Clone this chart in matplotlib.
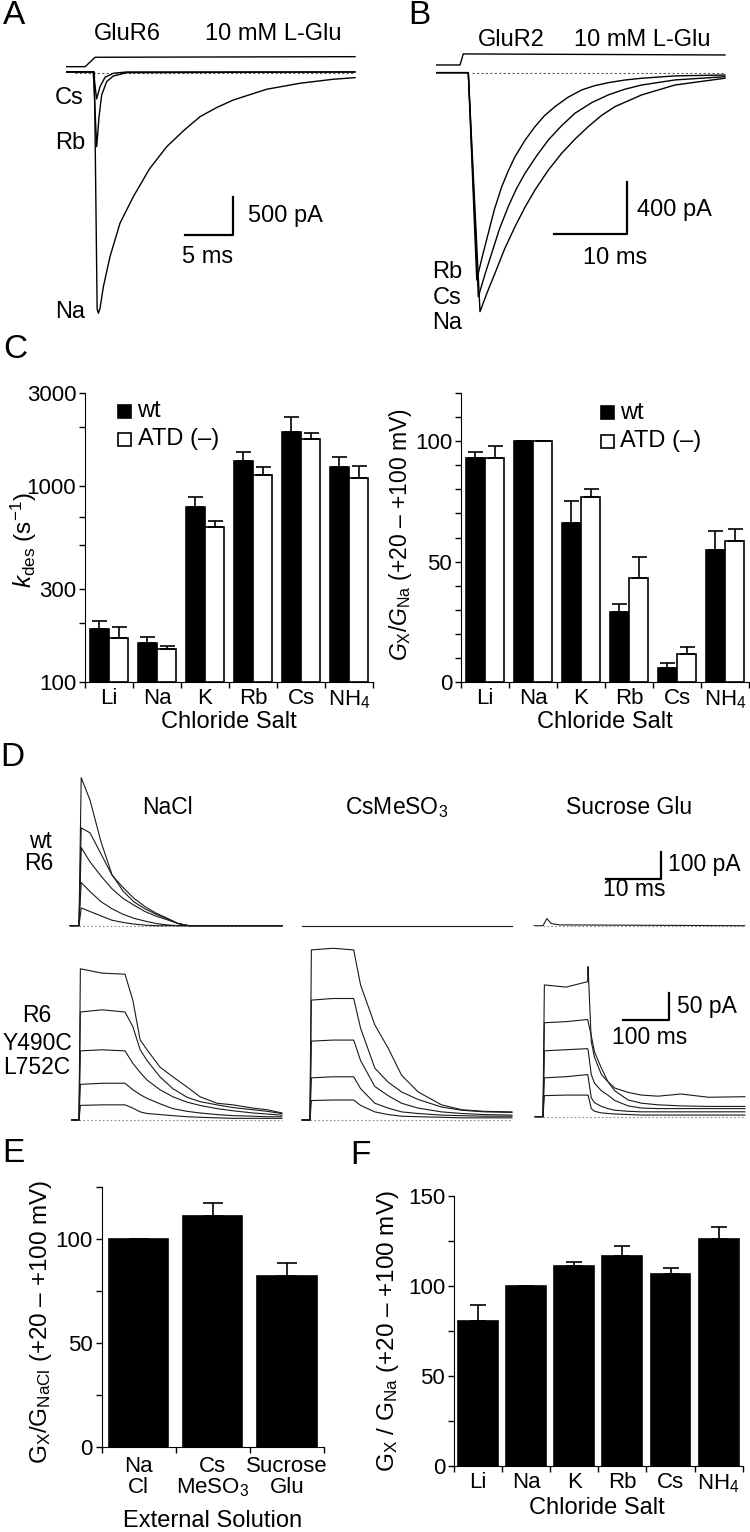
import numpy as np
import matplotlib
matplotlib.use('Agg')
import matplotlib.pyplot as plt
from matplotlib.patches import Rectangle
from matplotlib.ticker import NullFormatter

plt.rcParams['font.family'] = ['Liberation Sans', 'DejaVu Sans']
plt.rcParams['mathtext.fontset'] = 'custom'
plt.rcParams['mathtext.rm'] = 'Liberation Sans'
plt.rcParams['mathtext.it'] = 'Liberation Sans:italic'
plt.rcParams['mathtext.bf'] = 'Liberation Sans:bold'

# ---- panel A : GluR6 currents (ms, pA) ----
a_sol_t = [-2.22, -0.3, 0.74, 27.82]
a_sol_i = [70, 70, 194, 202]
a_na_t = [-2.22, 0.66, 0.95, 1.08, 1.25, 1.60, 2.29, 3.33, 4.72, 6.4, 8.20, 10.0,
          11.67, 13.4, 15.14, 18.62, 22.09, 25.56, 27.82]
a_na_i = [0, 0, -3130, -3185, -3120, -2834, -2438, -1997, -1646, -1280, -986, -770,
          -590, -470, -370, -228, -149, -96, -75]
a_rb_t = [-2.22, 0.55, 0.90, 1.15, 1.42, 1.94, 2.64, 4.03, 27.82]
a_rb_i = [0, 0, -986, -590, -304, -128, -53, -9, 0]
a_cs_t = [-2.22, 0.55, 0.90, 1.25, 1.77, 2.64, 4.03, 27.82]
a_cs_i = [0, 0, -356, -194, -70, -17, 0, 0]

# ---- panel B : GluR2 currents (ms, pA) ----
b_sol_t = [-4.35, -1.14, -0.69, 35.32]
b_sol_i = [59, 59, 144, 136]
b_rb_t = [-4.35, 0.0, 1.16, 1.9, 2.75, 3.6, 4.60, 5.5, 6.43, 7.8, 9.18, 10.5, 11.93, 13.7,
          15.60, 17.4, 19.27, 21.5, 23.86, 28.44, 35.32]
b_rb_i = [0, 0, -1594, -1420, -1235, -1050, -877, -755, -646, -520, -415, -330, -261, -190,
          -133, -100, -77, -57, -43, -25, -18]
b_cs_t = [-4.35, 0.0, 1.38, 2.3, 3.22, 4.3, 5.50, 6.6, 7.80, 9.4, 11.01, 12.8, 14.68,
          17.0, 19.27, 21.5, 23.86, 28.44, 35.32]
b_cs_i = [0, 0, -1723, -1550, -1389, -1200, -1030, -895, -774, -640, -518, -410, -312,
          -230, -171, -128, -95, -56, -31]
b_na_t = [-4.35, 0.0, 1.61, 2.6, 3.67, 5.0, 6.43, 7.8, 9.18, 11.0, 12.85, 14.7, 16.51,
          18.3, 20.19, 23.86, 28.44, 35.32]
b_na_i = [0, 0, -1838, -1690, -1543, -1355, -1184, -1035, -902, -750, -620, -510, -415,
          -330, -261, -171, -95, -43]

# ---- panel C ----
salts = ['Li', 'Na', 'K', 'Rb', 'Cs', 'NH$_4$']
kdes_wt = [186, 159, 787, 1348, 1904, 1251]
kdes_wt_err = [19, 10, 93, 151, 350, 167]
kdes_atd = [167, 147, 622, 1143, 1746, 1108]
kdes_atd_err = [25, 6, 41, 113, 135, 163]
gx_wt = [93, 100, 66, 29, 6, 55]
gx_wt_err = [2.5, 0, 9, 3.5, 2, 7.5]
gx_atd = [93, 100, 77, 43, 11.5, 58.5]
gx_atd_err = [5, 0, 3, 9, 3, 5]

# ---- panel D (wt R6, ms / pA) ----
fast_t = [-1.6, 0, 0.4, 2, 4, 6, 8, 10, 12, 14, 16, 18, 20, 36.9]
nacl_wt_1 = [0, 0, 542, 460, 307, 187, 127, 87, 62, 42, 26, 8, 0, 0]
nacl_wt_2 = [0, 0, 358, 340, 263, 185, 140, 100, 70, 46, 28, 8, 0, 0]
nacl_wt_3 = [0, 0, 286, 234, 182, 135, 100, 75, 52, 35, 22, 8, 0, 0]
nacl_wt_4 = [0, 0, 158, 125, 88, 62, 42, 27, 17, 8, 3, 0, 0, 0]
nacl_wt_5 = [0, 0, 65, 52, 36, 20, 12, 6, 2, 0, 0, 0, 0, 0]
cs_wt_t = [-1.45, 36.7]
cs_wt_i = [0, 0]
suc_wt_t = [-1.6, 0, 0.7, 1.5, 3, 36.7]
suc_wt_i = [0, 0, 26, 8, 3, 0]

# ---- panel D (R6 Y490C L752C, ms / pA) ----
nacl_mut_t = [-16, 0, 3, 50, 100, 117, 133, 148, 176, 204, 235, 263, 300, 335, 378, 409, 441]
nacl_mut_1 = [0, 0, 280, 272, 270, 222, 148, 130, 98, 80, 61, 43, 31, 28, 22, 19, 13]
nacl_mut_2 = [0, 0, 200, 204, 200, 173, 130, 110, 80, 58, 42, 34, 28, 23, 19, 16, 12]
nacl_mut_3 = [0, 0, 128, 130, 128, 105, 88, 74, 56, 43, 33, 27, 21, 17, 13, 11, 9]
nacl_mut_4 = [0, 0, 66, 68, 68, 56, 47, 40, 30, 21, 16, 13, 10, 8, 7, 6, 6]
nacl_mut_5 = [0, 0, 27, 28, 28, 22, 15, 12, 10, 8, 6, 5, 4, 3, 3, 3, 3]
cs_mut_t = [-17, 0, 3, 50, 95, 110, 141, 170, 199, 235, 286, 330, 380, 439]
cs_mut_1 = [0, 0, 315, 318, 315, 250, 176, 133, 83, 52, 28, 19, 16, 15]
cs_mut_2 = [0, 0, 222, 225, 225, 170, 96, 70, 52, 38, 24, 18, 15, 14]
cs_mut_3 = [0, 0, 146, 148, 148, 110, 62, 45, 31, 22, 15, 12, 10, 9]
cs_mut_4 = [0, 0, 78, 80, 80, 58, 31, 22, 15, 12, 9, 8, 7, 7]
cs_mut_5 = [0, 0, 36, 37, 37, 27, 15, 10, 7, 6, 5, 4, 4, 4]
suc_mut_t = [-17, 0, 3, 50, 97, 98, 105, 112, 127, 141, 156, 185, 214, 250, 300, 360, 439]
suc_mut_1 = [0, 0, 244, 240, 250, 278, 139, 110, 78, 65, 53, 45, 40, 38, 42, 36, 37]
suc_mut_2 = [0, 0, 174, 176, 180, 176, 150, 120, 90, 65, 48, 31, 25, 22, 20, 19, 19]
suc_mut_3 = [0, 0, 122, 124, 126, 124, 78, 62, 48, 40, 30, 20, 16, 15, 15, 15, 15]
suc_mut_4 = [0, 0, 72, 74, 78, 74, 35, 26, 19, 15, 12, 10, 9, 9, 9, 9, 9]
suc_mut_5 = [0, 0, 39, 40, 40, 40, 15, 10, 7, 6, 5, 4, 3, 3, 3, 3, 3]

# ---- panel E / F ----
solutions = ['Na\nCl', 'Cs\nMeSO$_3$', 'Sucrose\nGlu']
e_vals = [100, 111, 82.2]
e_err = [0, 6.5, 6.4]
f_vals = [80.6, 100, 111, 116.7, 106.7, 126.1]
f_err = [8.7, 0, 2, 5.3, 3.3, 6.5]

W, H = 750, 1532
fig = plt.figure(figsize=(W / 100, H / 100), dpi=100)


def box(x0, y0, x1, y1):   # pixel box -> figure fraction
    return [x0 / W, 1 - y1 / H, (x1 - x0) / W, (y1 - y0) / H]


def ptxt(x, y, s, **kw):   # text at pixel position
    kw.setdefault('fontsize', 16.5)
    kw.setdefault('ha', 'center')
    kw.setdefault('va', 'center')
    fig.text(x / W, 1 - y / H, s, **kw)


def trace_ax(b, xlim, ylim):
    ax = fig.add_axes(box(*b))
    ax.set_xlim(*xlim)
    ax.set_ylim(*ylim)
    ax.axis('off')
    return ax


def bar_style(ax, labels, pad=4.5):
    for s in ['top', 'right']:
        ax.spines[s].set_visible(False)
    ax.tick_params(which='both', direction='out', length=4.3, width=1.0,
                   labelsize=16, pad=2)
    n = len(labels)
    ax.set_xlim(-0.5, n - 0.5)
    ax.set_xticks(np.arange(n + 1) - 0.5)
    ax.set_xticklabels([])
    ax.set_xticks(np.arange(n), minor=True)
    ax.set_xticklabels(labels, minor=True)
    ax.tick_params(axis='x', which='minor', length=0, pad=pad, labelsize=16)


def legend_box(x, y, fill, text):   # pixel position
    fig.add_artist(Rectangle(((x - 6.5) / W, 1 - (y + 6.5) / H), 13 / W, 13 / H,
                             transform=fig.transFigure, facecolor=fill,
                             edgecolor='k', lw=1.2))
    ptxt(x + 13, y, text, ha='left', fontsize=17)


# ================= A =================
axA = trace_ax((60, 30, 360, 320), (-2.92, 28.34), (-3274, 554))
axA.plot(a_sol_t, a_sol_i, color='k', lw=1.0)
axA.plot([-1.35, 27.82], [-10, -10], color='0.35', lw=0.8, ls=(0, (2, 2)))
for t, i in [(a_na_t, a_na_i), (a_rb_t, a_rb_i), (a_cs_t, a_cs_i)]:
    axA.plot(t, i, color='k', lw=1.0)
axA.plot([10.14, 15.14, 15.14], [-2152, -2152, -1652], color='k', lw=1.6)
ptxt(3, 16, 'A', fontsize=24, ha='left')
ptxt(127, 34, 'GluR6', fontsize=17)
ptxt(273, 34, '10 mM L-Glu', fontsize=17)
ptxt(84, 98, 'Cs', fontsize=17, ha='right')
ptxt(85, 143, 'Rb', fontsize=17, ha='right')
ptxt(85, 312, 'Na', fontsize=17, ha='right')
ptxt(248, 216, '500 pA', fontsize=17, ha='left')
ptxt(208, 257, '5 ms', fontsize=17)

# ================= B =================
axB = trace_ax((430, 30, 735, 330), (-5.27, 36.7), (-1979, 328))
axB.plot(b_sol_t, b_sol_i, color='k', lw=1.0)
axB.plot([0.47, 35.32], [-5, -5], color='0.35', lw=0.8, ls=(0, (2, 2)))
for t, i in [(b_na_t, b_na_i), (b_cs_t, b_cs_i), (b_rb_t, b_rb_i)]:
    axB.plot(t, i, color='k', lw=1.0)
axB.plot([11.8, 21.8, 21.8], [-1240, -1240, -840], color='k', lw=1.6)
ptxt(419, 16, 'B', fontsize=24)
ptxt(511, 40, 'GluR2', fontsize=17)
ptxt(642, 40, '10 mM L-Glu', fontsize=17)
ptxt(462, 272, 'Rb', fontsize=17, ha='right')
ptxt(462, 298, 'Cs', fontsize=17, ha='right')
ptxt(462, 323, 'Na', fontsize=17, ha='right')
ptxt(637, 210, '400 pA', fontsize=17, ha='left')
ptxt(615, 258, '10 ms', fontsize=17)

# ================= C left (kdes, log) =================
x = np.arange(len(salts))
axCL = fig.add_axes(box(85, 393, 373, 682))
axCL.set_yscale('log')
axCL.bar(x - 0.2, np.array(kdes_wt) - 100, bottom=100, width=0.4,
         color='k', edgecolor='k', lw=1.2)
axCL.bar(x + 0.2, np.array(kdes_atd) - 100, bottom=100, width=0.4,
         color='white', edgecolor='k', lw=1.2)
axCL.errorbar(x - 0.2, kdes_wt, yerr=[np.zeros(6), kdes_wt_err], fmt='none',
              ecolor='k', elinewidth=1.2, capsize=5.4, capthick=1.2)
axCL.errorbar(x + 0.2, kdes_atd, yerr=[np.zeros(6), kdes_atd_err], fmt='none',
              ecolor='k', elinewidth=1.2, capsize=5.4, capthick=1.2)
axCL.set_ylim(100, 3000)
bar_style(axCL, salts)
axCL.set_yticks([100, 300, 1000, 3000])
axCL.set_yticklabels(['100', '300', '1000', '3000'])
axCL.set_yticks([200, 500, 700, 2000], minor=True)
axCL.yaxis.set_minor_formatter(NullFormatter())
legend_box(124.5, 411, 'k', 'wt')
legend_box(124.5, 439.5, 'white', 'ATD (–)')
ptxt(24, 540, r'$k_{\rm des}$ (s$^{-1}$)', fontsize=17.5, rotation=90)
ptxt(229, 722, 'Chloride Salt', fontsize=17)
ptxt(15, 349, 'C', fontsize=24)

# ================= C right (G ratio) =================
axCR = fig.add_axes(box(461, 393, 749, 682))
axCR.bar(x - 0.2, gx_wt, width=0.4, color='k', edgecolor='k', lw=1.2)
axCR.bar(x + 0.2, gx_atd, width=0.4, color='white', edgecolor='k', lw=1.2)
axCR.errorbar(x - 0.2, gx_wt, yerr=[np.zeros(6), gx_wt_err], fmt='none',
              ecolor='k', elinewidth=1.2, capsize=5.4, capthick=1.2)
axCR.errorbar(x + 0.2, gx_atd, yerr=[np.zeros(6), gx_atd_err], fmt='none',
              ecolor='k', elinewidth=1.2, capsize=5.4, capthick=1.2)
axCR.set_ylim(0, 120)
bar_style(axCR, salts)
axCR.set_yticks([0, 50, 100])
axCR.set_yticks(np.arange(0, 121, 10), minor=True)
legend_box(607, 412.5, 'k', 'wt')
legend_box(607, 441, 'white', 'ATD (–)')
ptxt(400, 535, r'$G_{\rm X}/G_{\rm Na}$ (+20 – +100 mV)', fontsize=16.5, rotation=90)
ptxt(605, 722, 'Chloride Salt', fontsize=17)

# ================= D =================
ptxt(12, 758, 'D', fontsize=24)
ptxt(167, 808, 'NaCl')
ptxt(397, 808, 'CsMeSO$_3$')
ptxt(629, 808, 'Sucrose Glu')
ptxt(40, 841, 'wt')
ptxt(39, 863, 'R6')
ptxt(37, 1016, 'R6')
ptxt(37, 1044, 'Y490C')
ptxt(37, 1068, 'L752C')

trc = dict(color='0.1', lw=0.8)
dots = dict(color='0.55', lw=0.8, ls=(0, (1.5, 2)))

dNa1 = trace_ax((68, 770, 285, 935), (-2.0, 37.45), (-34, 570))
dNa1.plot([0, 36.9], [0, 0], **dots)
for s in (nacl_wt_5, nacl_wt_4, nacl_wt_3, nacl_wt_2, nacl_wt_1):
    dNa1.plot(fast_t, s, **trc)
dCs1 = trace_ax((300, 770, 514, 935), (-1.8, 37.1), (-34, 570))
dCs1.plot(cs_wt_t, cs_wt_i, **trc)
dSu1 = trace_ax((532, 770, 748, 935), (-2.0, 37.3), (-34, 570))
dSu1.plot([0, 36.7], [0, 0], **dots)
dSu1.plot(suc_wt_t, suc_wt_i, **trc)
dSu1.plot([11.4, 21.5, 21.5], [171, 171, 271], color='k', lw=1.6)
ptxt(668, 865, '100 pA', ha='left')
ptxt(634, 890, '10 ms')

dNa2 = trace_ax((68, 935, 285, 1125), (-23.9, 447.8), (-9.3, 342.6))
dNa2.plot([0, 441], [0, 0], **dots)
for s in (nacl_mut_5, nacl_mut_4, nacl_mut_3, nacl_mut_2, nacl_mut_1):
    dNa2.plot(nacl_mut_t, s, **trc)
dCs2 = trace_ax((300, 935, 514, 1125), (-21.7, 443.5), (-9.3, 342.6))
dCs2.plot([0, 439], [0, 0], **dots)
for s in (cs_mut_5, cs_mut_4, cs_mut_3, cs_mut_2, cs_mut_1):
    dCs2.plot(cs_mut_t, s, **trc)
dSu2 = trace_ax((532, 935, 748, 1125), (-23.9, 445.7), (-15.4, 336.5))
dSu2.plot([0, 439], [0, 0], **dots)
for s in (suc_mut_5, suc_mut_4, suc_mut_3, suc_mut_2, suc_mut_1):
    dSu2.plot(suc_mut_t, s, **trc)
dSu2.plot([174, 274, 274], [179, 179, 229], color='k', lw=1.6)
ptxt(677, 1006, '50 pA', ha='left')
ptxt(650, 1038, '100 ms')

# ================= E =================
axE = fig.add_axes(box(101.7, 1187.3, 324, 1446.7))
xe = np.arange(len(solutions))
axE.bar(xe, e_vals, width=0.8, color='k', edgecolor='k', lw=1.2)
axE.errorbar(xe, e_vals, yerr=[np.zeros(3), e_err], fmt='none', ecolor='k',
             elinewidth=1.2, capsize=7.5, capthick=1.2)
axE.set_ylim(0, 125)
bar_style(axE, solutions, pad=7)
for lbl in axE.get_xticklabels(minor=True):
    lbl.set_linespacing(0.95)
axE.set_yticks([0, 50, 100])
axE.set_yticks([25, 75, 125], minor=True)
ptxt(41, 1322, r'$\mathrm{G_X/G_{NaCl}}$ (+20 – +100 mV)', fontsize=17.5, rotation=90)
ptxt(213, 1521, 'External Solution', fontsize=17)
ptxt(13, 1153, 'E', fontsize=24)

# ================= F =================
axF = fig.add_axes(box(454, 1195.7, 742.7, 1465.7))
axF.bar(x, f_vals, width=0.83, color='k', edgecolor='k', lw=1.2)
axF.errorbar(x, f_vals, yerr=[np.zeros(6), f_err], fmt='none', ecolor='k',
             elinewidth=1.2, capsize=6, capthick=1.2)
axF.set_ylim(0, 150)
bar_style(axF, salts)
axF.set_yticks([0, 50, 100, 150])
axF.set_yticks([25, 75, 125], minor=True)
ptxt(388, 1331, r'$\mathrm{G_X}$ / $\mathrm{G_{Na}}$ (+20 – +100 mV)', fontsize=17.5,
     rotation=90)
ptxt(597, 1508, 'Chloride Salt', fontsize=17)
ptxt(360, 1155, 'F', fontsize=24)

fig.savefig('out.png', dpi=100)
